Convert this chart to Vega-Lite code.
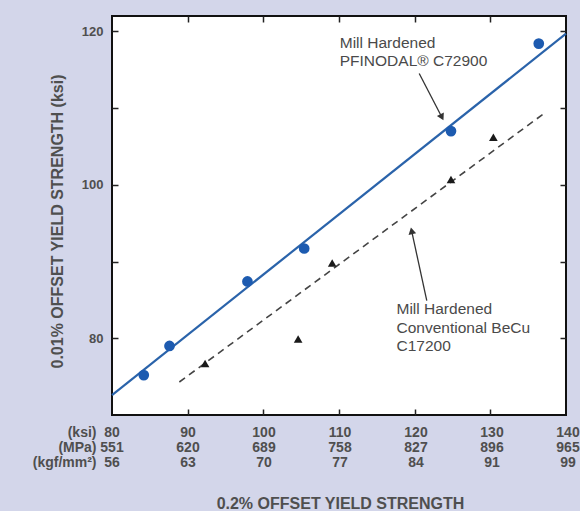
{
  "$schema": "https://vega.github.io/schema/vega-lite/v6.json",
  "background": "#d3d6ea",
  "padding": {"left": 32, "top": 14, "right": 0, "bottom": 0},
  "spacing": 8,
  "config": {
    "font": "Liberation Sans",
    "view": {"stroke": null},
    "axis": {
      "labelFont": "Liberation Sans",
      "titleFont": "Liberation Sans",
      "labelFontWeight": "bold",
      "titleFontWeight": "bold",
      "labelColor": "#4f4f4f",
      "titleColor": "#4f4f4f",
      "grid": false,
      "zindex": 1
    }
  },
  "datasets": {
    "fitC": [{"x": 80, "y": 72.6}, {"x": 140, "y": 119.7}],
    "fitB": [{"x": 88.9, "y": 74.3}, {"x": 137.1, "y": 109.3}],
    "c72900": [
      {"x": 84.2, "y": 75.2}, {"x": 87.6, "y": 79.0}, {"x": 97.9, "y": 87.4},
      {"x": 105.4, "y": 91.7}, {"x": 124.8, "y": 107.0}, {"x": 136.4, "y": 118.4}
    ],
    "c17200": [
      {"x": 92.3, "y": 76.7}, {"x": 104.6, "y": 79.9}, {"x": 109.1, "y": 89.8},
      {"x": 124.8, "y": 100.7}, {"x": 130.4, "y": 106.2}
    ],
    "arrows": [
      {"id": "a", "x": 120.6, "y": 114.5, "x2": 123.6, "y2": 108.8},
      {"id": "b", "x": 121.6, "y": 84.9, "x2": 119.6, "y2": 94.0}
    ],
    "notes": [
      {"x": 110.1, "y": 119.4, "text": "Mill Hardened\nPFINODAL® C72900"},
      {"x": 117.6, "y": 84.7, "text": "Mill Hardened\nConventional BeCu\nC17200"}
    ],
    "table": [
      {"ksi": 80, "unit": "(ksi)", "value": "80"},
      {"ksi": 90, "unit": "(ksi)", "value": "90"},
      {"ksi": 100, "unit": "(ksi)", "value": "100"},
      {"ksi": 110, "unit": "(ksi)", "value": "110"},
      {"ksi": 120, "unit": "(ksi)", "value": "120"},
      {"ksi": 130, "unit": "(ksi)", "value": "130"},
      {"ksi": 140, "unit": "(ksi)", "value": "140"},
      {"ksi": 80, "unit": "(MPa)", "value": "551"},
      {"ksi": 90, "unit": "(MPa)", "value": "620"},
      {"ksi": 100, "unit": "(MPa)", "value": "689"},
      {"ksi": 110, "unit": "(MPa)", "value": "758"},
      {"ksi": 120, "unit": "(MPa)", "value": "827"},
      {"ksi": 130, "unit": "(MPa)", "value": "896"},
      {"ksi": 140, "unit": "(MPa)", "value": "965"},
      {"ksi": 80, "unit": "(kgf/mm²)", "value": "56"},
      {"ksi": 90, "unit": "(kgf/mm²)", "value": "63"},
      {"ksi": 100, "unit": "(kgf/mm²)", "value": "70"},
      {"ksi": 110, "unit": "(kgf/mm²)", "value": "77"},
      {"ksi": 120, "unit": "(kgf/mm²)", "value": "84"},
      {"ksi": 130, "unit": "(kgf/mm²)", "value": "91"},
      {"ksi": 140, "unit": "(kgf/mm²)", "value": "99"}
    ]
  },
  "vconcat": [
    {
      "width": 454,
      "height": 399,
      "view": {"fill": "white", "stroke": "#111111", "strokeWidth": 2},
      "resolve": {"axis": {"x": "independent", "y": "independent"}},
      "layer": [
        {
          "data": {"name": "fitC"},
          "mark": {"type": "line", "color": "#2a63aa", "strokeWidth": 2.2},
          "encoding": {
            "x": {"field": "x", "type": "quantitative", "scale": {"domain": [80, 140], "nice": false, "zero": false},
              "axis": {"orient": "bottom", "values": [90, 100, 110, 120, 130], "labels": false, "tickSize": 6, "offset": -6, "tickColor": "#222", "tickWidth": 1.5, "domain": false, "title": null}},
            "y": {"field": "y", "type": "quantitative", "scale": {"domain": [70, 122], "nice": false, "zero": false},
              "axis": {"orient": "left", "values": [80, 90, 100, 110, 120], "labelExpr": "datum.value % 20 === 0 ? datum.label : ''", "tickSize": 6, "offset": -6, "tickColor": "#222", "tickWidth": 1.5, "labelPadding": 9, "labelFontSize": 13, "domain": false,
                "title": "0.01% OFFSET YIELD STRENGTH (ksi)", "titleFontSize": 16, "titlePadding": 16, "titleY": 205}}
          }
        },
        {
          "data": {"name": "fitB"},
          "mark": {"type": "line", "color": "#444444", "strokeWidth": 1.6, "strokeDash": [7, 5]},
          "encoding": {
            "x": {"field": "x", "type": "quantitative",
              "axis": {"orient": "top", "values": [90, 100, 110, 120, 130], "labels": false, "tickSize": 6, "offset": -6, "tickColor": "#222", "tickWidth": 1.5, "domain": false, "title": null}},
            "y": {"field": "y", "type": "quantitative",
              "axis": {"orient": "right", "values": [80, 90, 100, 110, 120], "labels": false, "tickSize": 6, "offset": -6, "tickColor": "#222", "tickWidth": 1.5, "domain": false, "title": null}}
          }
        },
        {
          "data": {"name": "c72900"},
          "mark": {"type": "point", "shape": "circle", "filled": true, "color": "#1d5bb0", "opacity": 1, "size": 115},
          "encoding": {
            "x": {"field": "x", "type": "quantitative", "axis": null},
            "y": {"field": "y", "type": "quantitative", "axis": null}
          }
        },
        {
          "data": {"name": "c17200"},
          "mark": {"type": "point", "shape": "triangle-up", "filled": true, "color": "#1a1a1a", "opacity": 1, "size": 75},
          "encoding": {
            "x": {"field": "x", "type": "quantitative", "axis": null},
            "y": {"field": "y", "type": "quantitative", "axis": null}
          }
        },
        {
          "data": {"name": "arrows"},
          "mark": {"type": "rule", "color": "#333333", "strokeWidth": 1.3},
          "encoding": {
            "x": {"field": "x", "type": "quantitative", "axis": null},
            "y": {"field": "y", "type": "quantitative", "axis": null},
            "x2": {"field": "x2"},
            "y2": {"field": "y2"}
          }
        },
        {
          "data": {"name": "arrows"},
          "transform": [{"filter": "datum.id === 'a'"}],
          "mark": {"type": "point", "shape": "triangle-up", "filled": true, "color": "#333333", "opacity": 1, "size": 60, "angle": 153},
          "encoding": {
            "x": {"field": "x2", "type": "quantitative", "axis": null},
            "y": {"field": "y2", "type": "quantitative", "axis": null}
          }
        },
        {
          "data": {"name": "arrows"},
          "transform": [{"filter": "datum.id === 'b'"}],
          "mark": {"type": "point", "shape": "triangle-up", "filled": true, "color": "#333333", "opacity": 1, "size": 60, "angle": 348},
          "encoding": {
            "x": {"field": "x2", "type": "quantitative", "axis": null},
            "y": {"field": "y2", "type": "quantitative", "axis": null}
          }
        },
        {
          "data": {"name": "notes"},
          "mark": {"type": "text", "align": "left", "baseline": "top", "lineBreak": "\n", "lineHeight": 18.5, "fontSize": 15.5, "font": "Liberation Sans", "color": "#4a4a4a"},
          "encoding": {
            "x": {"field": "x", "type": "quantitative", "axis": null},
            "y": {"field": "y", "type": "quantitative", "axis": null},
            "text": {"field": "text"}
          }
        }
      ]
    },
    {
      "width": 456,
      "height": 45,
      "data": {"name": "table"},
      "mark": {"type": "text", "fontSize": 14, "fontWeight": "bold", "font": "Liberation Sans", "color": "#4f4f4f"},
      "encoding": {
        "x": {"field": "ksi", "type": "quantitative", "scale": {"domain": [80, 140], "nice": false, "zero": false},
          "axis": {"labels": false, "ticks": false, "domain": false, "title": "0.2% OFFSET YIELD STRENGTH", "titleFontSize": 16, "titlePadding": 25}},
        "y": {"field": "unit", "type": "nominal", "sort": ["(ksi)", "(MPa)", "(kgf/mm²)"],
          "axis": {"ticks": false, "domain": false, "title": null, "labelPadding": 16, "labelFontSize": 14}},
        "text": {"field": "value"}
      }
    }
  ]
}
